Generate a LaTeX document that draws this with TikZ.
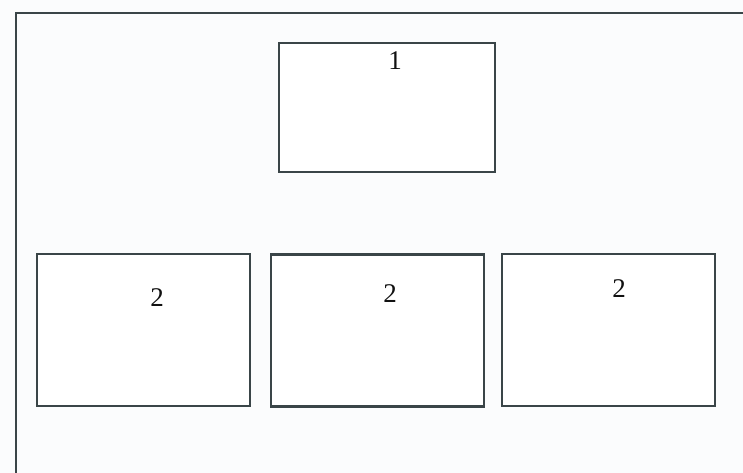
\documentclass[tikz,border=0pt]{standalone}
\usepackage{fontspec}
\setmainfont{Liberation Serif}
\usetikzlibrary{positioning}
\definecolor{Canvas}{HTML}{FBFCFD}
\definecolor{Line}{HTML}{3A4548}
\definecolor{Text}{HTML}{111111}

\begin{document}
\begin{tikzpicture}[
  x=1pt, y=-1pt,
  framebox/.style={
    draw=Line,
    line width=2.6pt,
    fill=white,
    inner sep=0pt
  },
  topbox/.style={
    framebox,
    minimum width=216pt,
    minimum height=129pt
  },
  lowbox/.style={
    framebox,
    minimum width=213pt,
    minimum height=152pt
  },
  num/.style={
    text=Text,
    font=\fontsize{27}{32}\selectfont,
    inner sep=0pt
  }
]

\fill[Canvas] (0,0) rectangle (743,473);
\useasboundingbox (0,0) rectangle (743,473);
\draw[Line, line width=2.8pt] (16,473) -- (16,13) -- (743,13);

\node[topbox] (top) at (387,107.5) {};
\node[num] (n1) at (395,61) {1};

\node[lowbox] (left) at (143.5,330) {};
\node[lowbox] (mid) at (377.5,330.5) {};
\node[lowbox] (right) at (608.5,330) {};

\node[num] (n2) at (157,298) {2};
\node[num] (n3) at (390,294) {2};
\node[num] (n4) at (619,289) {2};

\end{tikzpicture}
\end{document}
